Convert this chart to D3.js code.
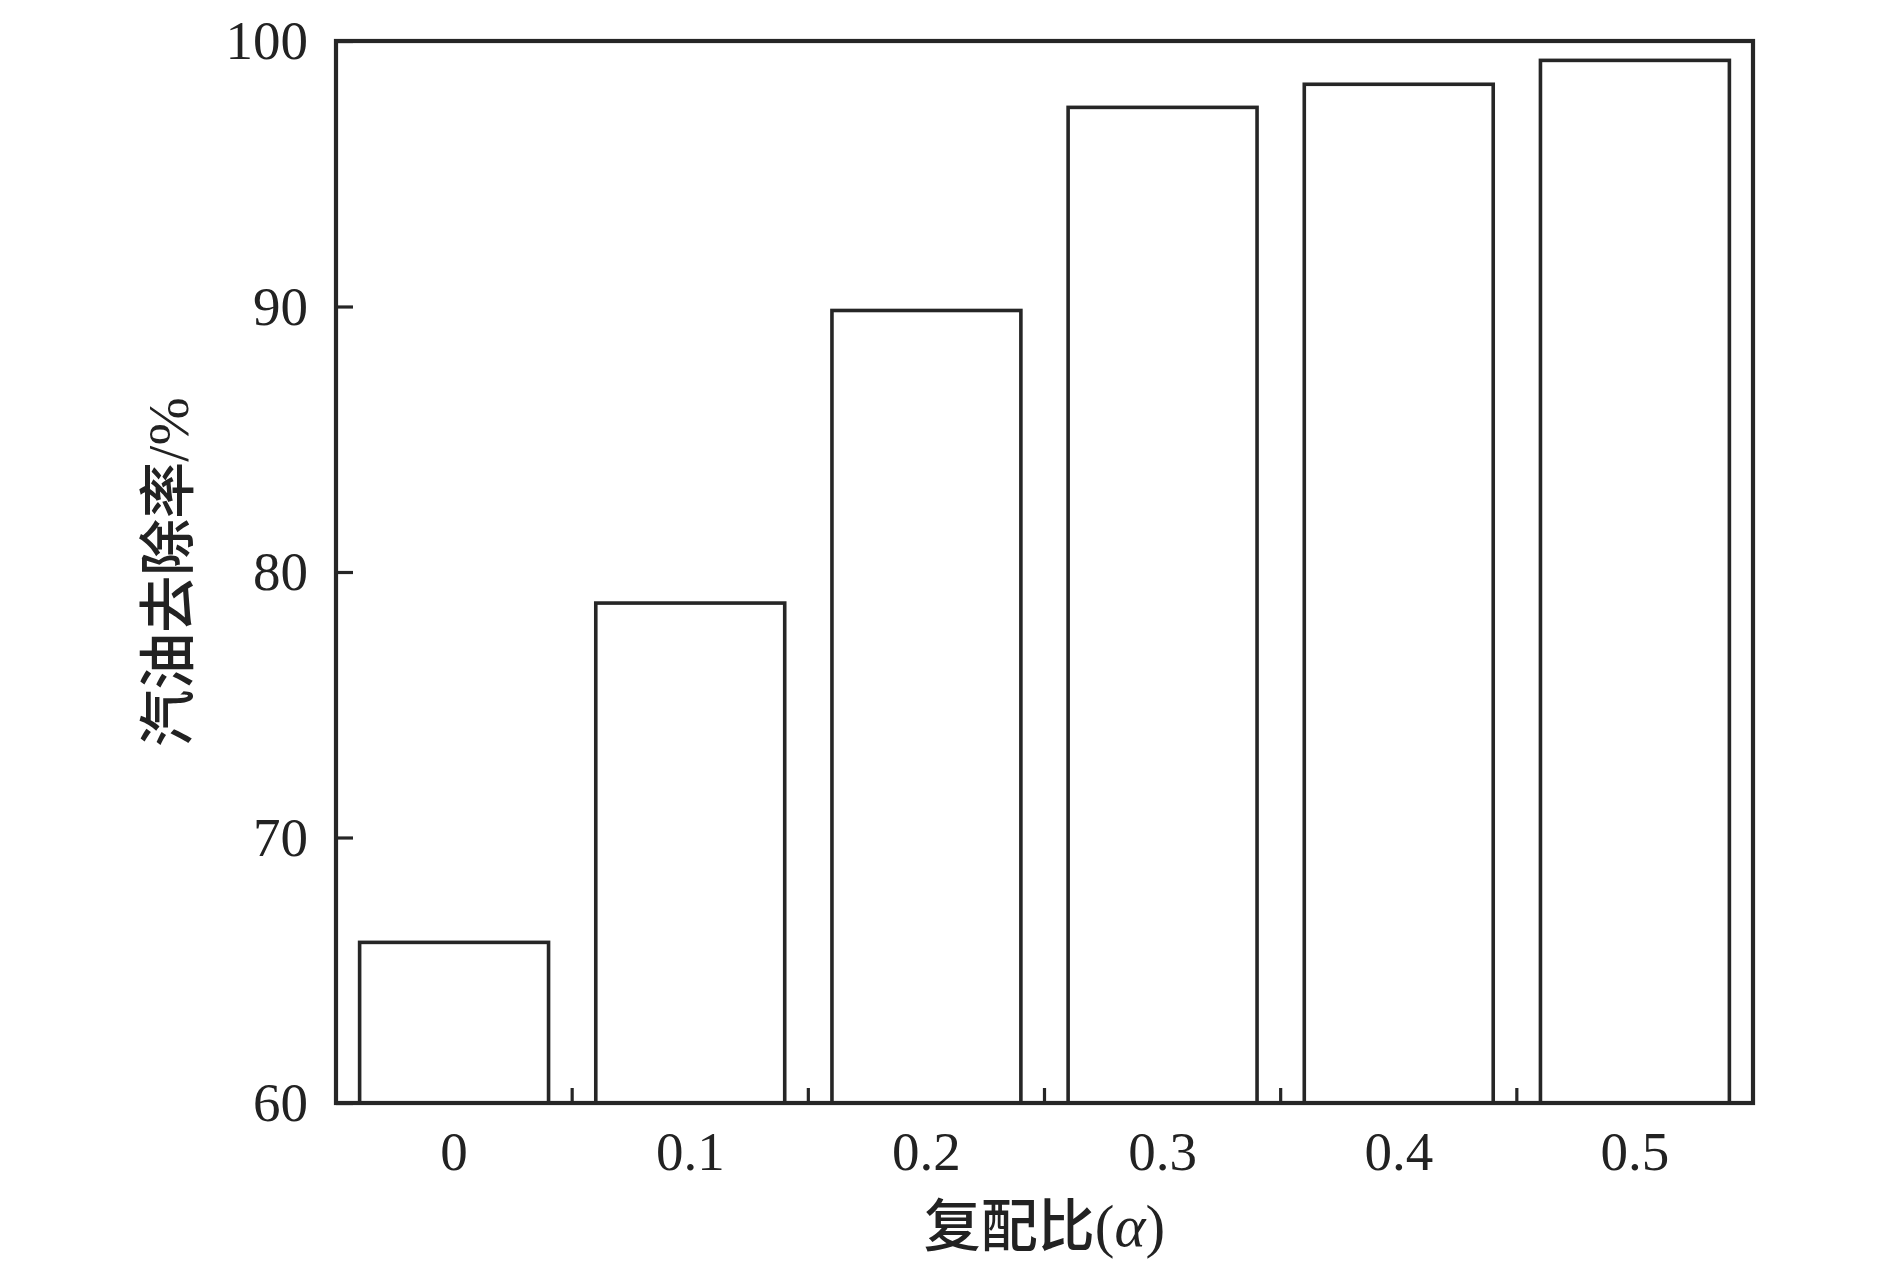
<!DOCTYPE html>
<html>
<head>
<meta charset="utf-8">
<script src="https://cdn.jsdelivr.net/npm/d3@7"></script>
<style>
  html, body { margin: 0; padding: 0; background: #fff; }
  svg { display: block; }
</style>
</head>
<body>
<svg id="chart" width="1890" height="1269"></svg>
<script>
const categories = ["0", "0.1", "0.2", "0.3", "0.4", "0.5"];
const removalRate = [66.05, 78.83, 89.85, 97.5, 98.37, 99.27];
const yTicks = [60, 70, 80, 90, 100];
const yDomain = [60, 100];

const W = 1890, H = 1269;
const margin = { left: 336, right: W - 1753, top: 41, bottom: H - 1103 };
const ink = "#262626";

const svg = d3.select("#chart");
const x = d3.scaleBand().domain(categories)
  .range([margin.left, W - margin.right])
  .paddingInner(0.2).paddingOuter(0.1);
const y = d3.scaleLinear().domain(yDomain).range([H - margin.bottom, margin.top]);

// bars
svg.append("g").selectAll("rect").data(categories).join("rect")
  .attr("x", d => x(d))
  .attr("y", (d, i) => y(removalRate[i]))
  .attr("width", x.bandwidth())
  .attr("height", (d, i) => y(yDomain[0]) - y(removalRate[i]))
  .attr("fill", "#fff")
  .attr("stroke", ink)
  .attr("stroke-width", 3.6);

// x boundary ticks (between bars, pointing inward)
const step = x.step();
const boundaries = categories.slice(0, -1).map(c => x(c) + x.bandwidth() + step * x.paddingInner() / 2);
svg.append("g").selectAll("line").data(boundaries).join("line")
  .attr("x1", d => d).attr("x2", d => d)
  .attr("y1", y(yDomain[0])).attr("y2", y(yDomain[0]) - 15)
  .attr("stroke", ink).attr("stroke-width", 3.2);

// x labels
svg.append("g").selectAll("text").data(categories).join("text")
  .attr("x", d => x(d) + x.bandwidth() / 2)
  .attr("y", 1170)
  .attr("text-anchor", "middle")
  .attr("font-family", "'Liberation Serif', 'Times New Roman', serif")
  .attr("font-size", 55)
  .attr("fill", "#222")
  .text(d => d);

// y axis
const yAxis = svg.append("g")
  .attr("transform", `translate(${margin.left},0)`)
  .call(d3.axisLeft(y).tickValues(yTicks).tickSize(-17).tickPadding(28).tickFormat(d3.format("d")));
yAxis.select(".domain").remove();
yAxis.selectAll(".tick line").attr("stroke", ink).attr("stroke-width", 3.2);
yAxis.selectAll(".tick text")
  .attr("font-family", "'Liberation Serif', 'Times New Roman', serif")
  .attr("font-size", 55)
  .attr("fill", "#222");

// frame
svg.append("rect")
  .attr("x", margin.left).attr("y", margin.top)
  .attr("width", W - margin.right - margin.left)
  .attr("height", H - margin.bottom - margin.top)
  .attr("fill", "none").attr("stroke", ink).attr("stroke-width", 4.2);

// y title
const yt = svg.append("text")
  .attr("transform", `translate(188, ${(margin.top + H - margin.bottom) / 2}) rotate(-90)`)
  .attr("text-anchor", "middle")
  .attr("font-size", 57)
  .attr("font-weight", 500)
  .attr("fill", "#222");
yt.append("tspan").attr("font-family", "'Noto Sans CJK SC', sans-serif").text("汽油去除率");
yt.append("tspan").attr("font-family", "'Liberation Serif', serif").attr("font-weight", 400).attr("font-size", 58).text("/%");

// x title
const xt = svg.append("text")
  .attr("x", (margin.left + W - margin.right) / 2)
  .attr("y", 1246)
  .attr("text-anchor", "middle")
  .attr("font-size", 57)
  .attr("font-weight", 500)
  .attr("fill", "#222");
xt.append("tspan").attr("font-family", "'Noto Sans CJK SC', sans-serif").text("复配比");
xt.append("tspan").attr("font-family", "'Liberation Serif', serif").attr("font-weight", 400).attr("font-size", 59).text("(");
xt.append("tspan").attr("font-family", "'Liberation Serif', serif").attr("font-weight", 400).attr("font-size", 59).attr("font-style", "italic").text("α");
xt.append("tspan").attr("font-family", "'Liberation Serif', serif").attr("font-weight", 400).attr("font-size", 59).text(")");
</script>
</body>
</html>
